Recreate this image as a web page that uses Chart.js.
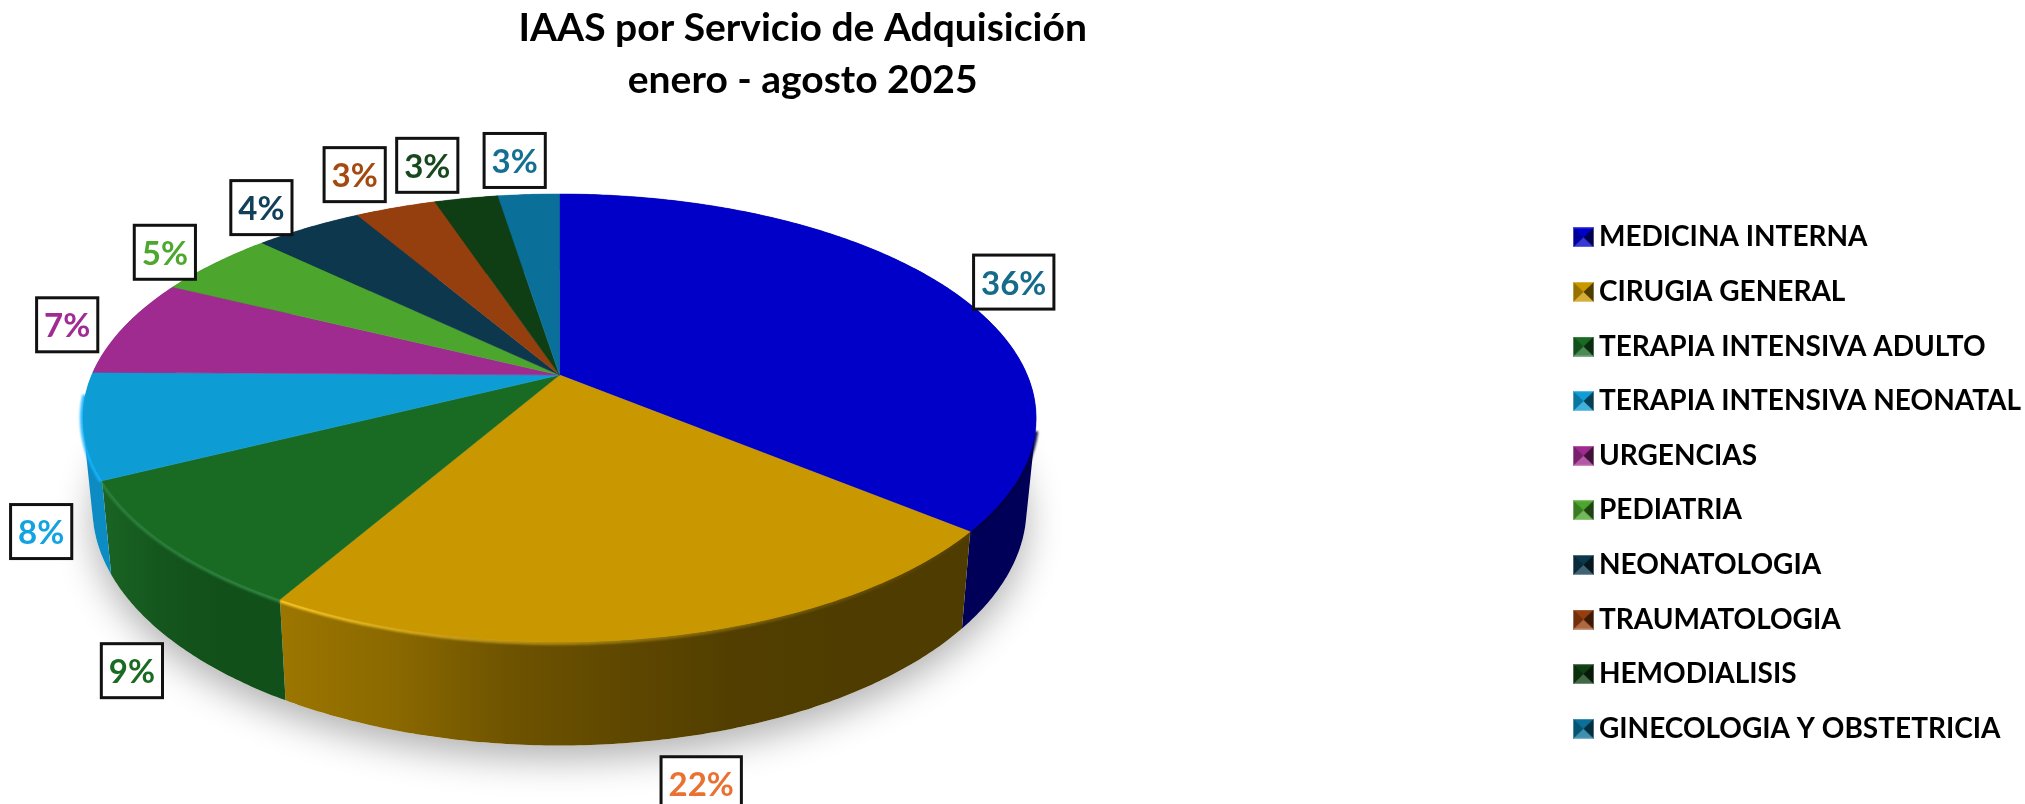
<!DOCTYPE html>
<html>
<head>
    <meta charset="UTF-8">
    <title>IAAS por Servicio de Adquisición</title>
    <style>
        html, body { margin: 0; padding: 0; background: #fff; }
        #myChart { display: block; }
    </style>
</head>
<body>
    <canvas id="myChart" width="2025" height="804"></canvas>
    <script src="https://cdn.jsdelivr.net/npm/chart.js"></script>
    <script>
        const servicios = ['MEDICINA INTERNA', 'CIRUGIA GENERAL', 'TERAPIA INTENSIVA ADULTO', 'TERAPIA INTENSIVA NEONATAL',
            'URGENCIAS', 'PEDIATRIA', 'NEONATOLOGIA', 'TRAUMATOLOGIA', 'HEMODIALISIS', 'GINECOLOGIA Y OBSTETRICIA'];
        const porcentajes = [36.0, 22.3, 9.3, 7.6, 7.1, 4.9, 4.4, 3.3, 2.6, 2.5];
        const titulo = ['IAAS por Servicio de Adquisición', 'enero - agosto 2025'];

        const topColors = ['#0000C8', '#C99700', '#196B24', '#0E9CD5', '#9F2B90', '#4CA52D', '#0C374C', '#963F0E', '#0F3E14', '#0A7099'];
        const labelColors = ['#156B8A', '#E97132', '#196B24', '#12A3E0', '#A02B93', '#4EA72E', '#123F5A', '#A4490F', '#17491D', '#156F92'];
        // wall colours, left to right across the slice
        const wallColors = [
            ['#000058'],
            ['#9C7600', '#8B6900', '#6E5300', '#5E4700', '#513E00', '#4F3C00', '#4F3C00'],
            ['#1A6424', '#14561D', '#125019', '#11501A'],
            ['#0D8CC4'], ['#7A2070'], ['#3A7F22'], ['#0A2A3A'], ['#71300A'], ['#0B2F0F'], ['#085574']
        ];
        // bevel line along the front rim, [colour at left, colour at right]
        const rimColors = [
            ['rgba(0,0,70,0.9)', 'rgba(0,0,70,0.9)'],
            ['rgba(255,205,40,0.95)', 'rgba(90,68,0,0.5)'],
            ['rgba(50,140,70,0.7)', 'rgba(50,140,70,0.9)'],
            ['rgba(25,180,255,0.9)', 'rgba(25,180,255,0.9)']
        ];
        // label box centre relative to the middle of the slice rim
        const labelShift = [[63, -8], [39, 147], [-36, 125], [-42, 106], [-57, -2], [-50, -11], [-47, -20], [-41, -33], [-39, -33], [-14, -34]];

        // tilted disc: apex of the slices, far/near radius and side radius
        const pie = { cx: 559.5, cy: 375, far: 181, near: 267, side: 476.6, depth: 90, midY: 417 };
        pie.c = (pie.near - pie.far) / (pie.near + pie.far);
        pie.a = pie.far * (1 + pie.c);
        pie.k = pie.side * Math.sqrt(1 - pie.c * pie.c);

        function project(angle) {
            // chart.js angles start at -PI/2 (top) and go clockwise
            const t = angle + Math.PI / 2;
            const u = Math.sin(t), v = Math.cos(t), w = 1 + pie.c * v;
            return { x: pie.cx + pie.k * u / w, y: pie.cy - pie.a * v / w };
        }
        function lower(p) {
            return { x: pie.cx + (p.x - pie.cx) * 0.98, y: pie.midY + (p.y - pie.midY) * 1.06 + pie.depth };
        }
        function rimPoints(a0, a1) {
            const steps = Math.max(2, Math.ceil((a1 - a0) / 0.01));
            const pts = [];
            for (let i = 0; i <= steps; i++) pts.push(project(a0 + (a1 - a0) * i / steps));
            return pts;
        }
        function tracePath(ctx, pts) {
            pts.forEach((p, i) => i ? ctx.lineTo(p.x, p.y) : ctx.moveTo(p.x, p.y));
        }
        function xGradient(ctx, pts, colors) {
            const xs = pts.map(p => p.x);
            const g = ctx.createLinearGradient(Math.min(...xs), 0, Math.max(...xs), 0);
            colors.forEach((c, i) => g.addColorStop(colors.length > 1 ? i / (colors.length - 1) : 0, c));
            return g;
        }
        function signedArea(q) {
            let area = 0;
            q.forEach((p, i) => {
                const n = q[(i + 1) % q.length];
                area += p.x * n.y - n.x * p.y;
            });
            return area;
        }

        const pie3d = {
            id: 'pie3d',
            afterLayout(chart) {
                // legend sits lower and further right than the library would put it
                const legend = chart.legend;
                legend.top += 81;
                legend.bottom += 81;
                legend.left += 6;
                legend.right += 6;
            },
            beforeDatasetDraw(chart) {
                const ctx = chart.ctx;
                const arcs = chart.getDatasetMeta(0).data;
                const full = rimPoints(-Math.PI / 2, Math.PI * 1.5);

                // soft shadow under the disc
                ctx.save();
                ctx.shadowColor = 'rgba(0,0,0,0.3)';
                ctx.shadowBlur = 36;
                ctx.shadowOffsetY = 14;
                ctx.fillStyle = '#fff';
                ctx.beginPath();
                tracePath(ctx, full.map(lower));
                ctx.closePath();
                ctx.fill();
                ctx.restore();

                // walls first, the top faces cover the far side
                // quads all wound the same way in one path, so no seams and no notches at the widest points
                arcs.forEach((arc, i) => {
                    const pts = rimPoints(arc.startAngle, arc.endAngle);
                    const low = pts.map(lower);
                    const colors = wallColors[i].length > 1 ? wallColors[i] : [wallColors[i][0], wallColors[i][0]];
                    ctx.beginPath();
                    for (let s = 0; s < pts.length - 1; s++) {
                        const quad = [pts[s], pts[s + 1], low[s + 1], low[s]];
                        tracePath(ctx, signedArea(quad) < 0 ? quad.reverse() : quad);
                        ctx.closePath();
                    }
                    ctx.fillStyle = xGradient(ctx, pts, colors);
                    ctx.fill();
                });

                // bevel on the near rim
                ctx.save();
                ctx.filter = 'blur(1.2px)';
                ctx.lineWidth = 6;
                arcs.forEach((arc, i) => {
                    if (!rimColors[i]) return;
                    const pts = rimPoints(Math.max(arc.startAngle, 0.25), Math.min(arc.endAngle, 3.05));
                    ctx.beginPath();
                    tracePath(ctx, pts);
                    ctx.strokeStyle = xGradient(ctx, pts, rimColors[i]);
                    ctx.stroke();
                });
                ctx.restore();

                // top faces
                arcs.forEach((arc, i) => {
                    const pts = rimPoints(arc.startAngle, arc.endAngle);
                    ctx.beginPath();
                    ctx.moveTo(pie.cx, pie.cy);
                    pts.forEach(p => ctx.lineTo(p.x, p.y));
                    ctx.closePath();
                    ctx.fillStyle = topColors[i];
                    ctx.strokeStyle = topColors[i];
                    ctx.lineWidth = 0.5;
                    ctx.fill();
                    ctx.stroke();
                });
                return false;
            },
            afterDatasetsDraw(chart) {
                const ctx = chart.ctx;
                const arcs = chart.getDatasetMeta(0).data;
                const total = porcentajes.reduce((s, v) => s + v, 0);
                ctx.save();
                ctx.font = 'bold 33px Lato';
                ctx.textAlign = 'center';
                ctx.textBaseline = 'middle';
                arcs.forEach((arc, i) => {
                    const mid = project((arc.startAngle + arc.endAngle) / 2);
                    const x = mid.x + labelShift[i][0], y = mid.y + labelShift[i][1];
                    const text = Math.round(porcentajes[i] / total * 100) + '%';
                    const w = ctx.measureText(text).width + 15, h = 54;
                    ctx.fillStyle = '#fff';
                    ctx.strokeStyle = '#111';
                    ctx.lineWidth = 3;
                    ctx.fillRect(x - w / 2, y - h / 2, w, h);
                    ctx.strokeRect(x - w / 2, y - h / 2, w, h);
                    ctx.fillStyle = labelColors[i];
                    ctx.fillText(text, x, y + 2);
                });
                ctx.restore();
            }
        };

        // little bevelled squares for the legend
        function bevelMarker(color) {
            const s = 21;
            const c = document.createElement('canvas');
            c.width = s; c.height = s - 1;
            const g = c.getContext('2d');
            const h = c.height;
            g.fillStyle = color;
            g.fillRect(0, 0, s, h);
            const tri = (pts, fill) => {
                g.beginPath();
                g.moveTo(pts[0], pts[1]); g.lineTo(pts[2], pts[3]); g.lineTo(s / 2, h / 2);
                g.closePath();
                g.fillStyle = fill;
                g.fill();
            };
            tri([0, h, s, h], 'rgba(255,255,255,0.22)');
            tri([s, 0, s, h], 'rgba(0,0,0,0.6)');
            tri([0, 0, 0, h], 'rgba(0,0,0,0.25)');
            g.strokeStyle = 'rgba(255,255,255,0.3)';
            g.strokeRect(0.5, 0.5, s - 1, h - 1);
            return c;
        }
        const markers = topColors.map(bevelMarker);

        const ctx = document.getElementById('myChart').getContext('2d');
        const myChart = new Chart(ctx, {
            type: 'pie',
            data: {
                labels: servicios,
                datasets: [{ data: porcentajes, backgroundColor: topColors, borderWidth: 0 }]
            },
            plugins: [pie3d],
            options: {
                responsive: false,
                animation: false,
                layout: { padding: { left: 56 } },
                plugins: {
                    tooltip: { enabled: false },
                    title: {
                        display: true,
                        text: titulo,
                        fullSize: false,
                        color: '#000',
                        font: { family: 'Lato', weight: 'bold', size: 39, lineHeight: 1.34 },
                        padding: { top: 2, bottom: 10 }
                    },
                    legend: {
                        position: 'right',
                        align: 'center',
                        labels: {
                            color: '#000',
                            font: { family: 'Lato', weight: 'bold', size: 28 },
                            usePointStyle: true,
                            pointStyleWidth: 3,
                            padding: 26.6,
                            generateLabels(chart) {
                                const items = Chart.overrides.pie.plugins.legend.labels.generateLabels(chart);
                                items.forEach((item, i) => { item.pointStyle = markers[i]; });
                                return items;
                            }
                        }
                    }
                }
            }
        });
    </script>
</body>
</html>
